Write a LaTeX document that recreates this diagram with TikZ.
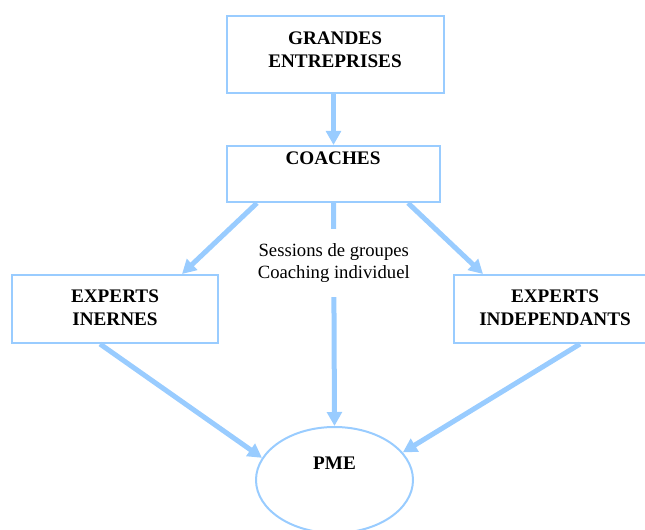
\documentclass[tikz,border=0pt]{standalone}
\usepackage{fontspec}
\setmainfont{Liberation Serif}
\usepackage{xcolor}
\usepackage{tikz}
\usetikzlibrary{calc,arrows.meta,shapes.geometric}
\definecolor{bleu}{HTML}{99CCFF}

\begin{document}
\begin{tikzpicture}[x=0.75pt,y=-0.75pt,
  boite/.style={draw=bleu, line width=1.5pt, rectangle, inner sep=0pt},
  titre/.style={align=center, font=\fontsize{14.4}{17.5}\selectfont\bfseries},
  fleche/.style={draw=bleu, line width=3.75pt, -{Triangle[width=11pt,length=10.5pt]}}]
\useasboundingbox (0,0) rectangle (645,530);
% boxes, placed at pixel coordinates of the layout
\node[boite, minimum width=162.75pt, minimum height=57.75pt] (ge) at (335.5,54.5) {};
\node[boite, minimum width=159.75pt, minimum height=42pt] (co) at (333.5,174) {};
\node[boite, minimum width=154.5pt, minimum height=51pt] (ei) at (115,309) {};
\node[boite, minimum width=151.5pt, minimum height=51pt] (er) at (555,309) {};
\node[draw=bleu, line width=1.5pt, ellipse, inner sep=0pt,
      minimum width=117.75pt, minimum height=79.5pt] (pme) at (334.5,480) {};

% texts
\node[titre] (t-ge) at (335,49.5) {GRANDES\\ENTREPRISES};
\node[titre] (t-co) at (333,158) {COACHES};
\node[titre] (t-ei) at (115,308) {EXPERTS\\INERNES};
\node[titre] (t-er) at (555,308) {EXPERTS\\INDEPENDANTS};
\node[titre] (t-pme) at (334.5,463) {PME};

% arrows
\draw[fleche] (ge.south -| co.north) -- (co.north);
\draw[fleche] ($(co.south)+(-76.5,0)$) -- ($(ei.north)+(67,0)$);
\draw[fleche] ($(co.south)+(74.5,0)$) -- ($(er.north)+(-72,0)$);
\draw[fleche] (co.south) -- (pme.north)
  node[pos=0.267, fill=white, inner sep=0pt, minimum height=51pt, align=center,
       font=\fontsize{14}{16.5}\selectfont] (sess) {Sessions de groupes\\Coaching individuel};
\draw[fleche] ($(ei.south)+(-15,0)$) -- (pme.163);
\draw[fleche] ($(er.south)+(25,0)$) -- (pme.22);
\end{tikzpicture}
\end{document}
